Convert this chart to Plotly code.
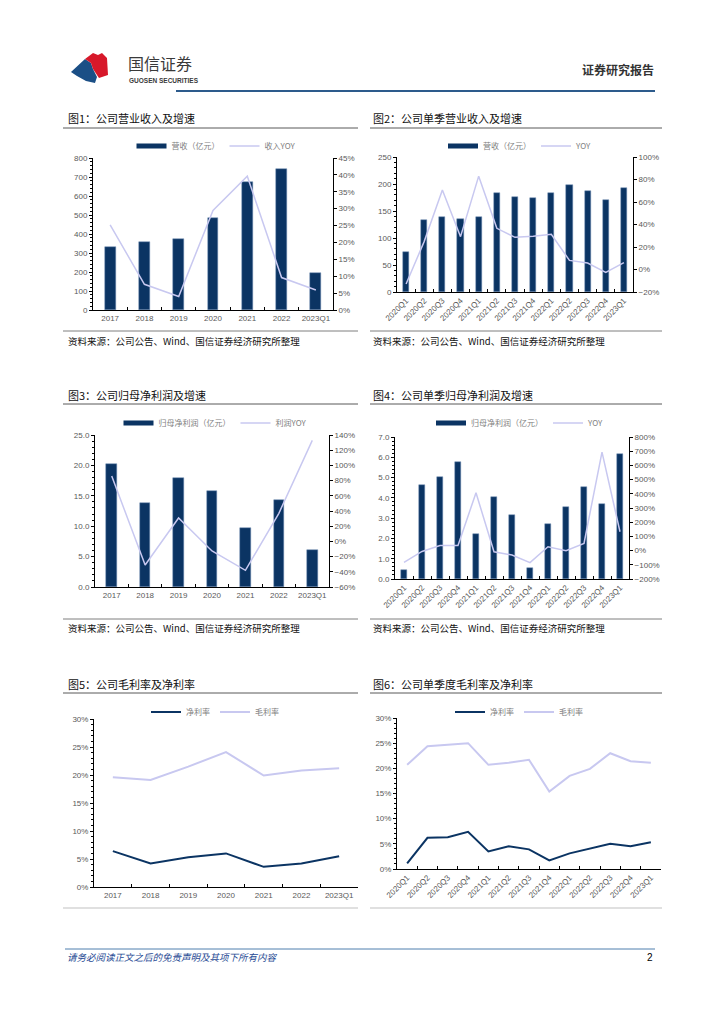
import plotly.graph_objects as go

# page is 724x1024; the browser body keeps its default 8px margin, so the figure is 708x1008
PAGE_W, PAGE_H = 724, 1024
OFF = 8
W, H = PAGE_W - 2 * OFF, PAGE_H - 2 * OFF
def X(px): return (px - OFF) / W
def Y(py): return 1 - (py - OFF) / H

# ---------------- data ----------------
years = ["2017", "2018", "2019", "2020", "2021", "2022", "2023Q1"]
quarters = ["2020Q1", "2020Q2", "2020Q3", "2020Q4", "2021Q1", "2021Q2", "2021Q3",
            "2021Q4", "2022Q1", "2022Q2", "2022Q3", "2022Q4", "2023Q1"]

rev_annual = [334, 359, 374, 485, 675, 742, 193]                 # 营收（亿元）
rev_annual_yoy = [0.252, 0.076, 0.040, 0.295, 0.396, 0.096, 0.059]

rev_q = [75, 134, 138, 136, 139, 184, 176, 175, 183, 199, 187, 171, 193]
rev_q_yoy = [-0.129, 0.25, 0.707, 0.292, 0.83, 0.366, 0.286, 0.295, 0.313, 0.081, 0.058, -0.025, 0.061]

np_annual = [20.2, 13.8, 17.9, 15.8, 9.7, 14.3, 6.1]             # 归母净利润（亿元）
np_annual_yoy = [0.86, -0.31, 0.308, -0.126, -0.38, 0.37, 1.33]

np_q = [0.44, 4.64, 5.02, 5.79, 2.21, 4.02, 3.15, 0.52, 2.70, 3.57, 4.56, 3.69, 6.16]
np_q_yoy = [-0.83, -0.06, 0.36, 0.36, 4.07, -0.08, -0.31, -0.85, 0.27, -0.01, 0.51, 6.94, 1.33]

net_margin_annual = [0.064, 0.042, 0.053, 0.060, 0.036, 0.042, 0.055]
gross_margin_annual = [0.196, 0.191, 0.215, 0.241, 0.199, 0.208, 0.212]

net_margin_q = [0.011, 0.062, 0.063, 0.074, 0.035, 0.045, 0.039, 0.017, 0.031, 0.040, 0.050, 0.045, 0.053]
gross_margin_q = [0.207, 0.244, 0.247, 0.250, 0.207, 0.211, 0.217, 0.154, 0.185, 0.199, 0.230, 0.214, 0.211]

# ---------------- styles ----------------
NAVY = "#0B3463"
LAV = "#C8C8F0"
TICKC = "#595959"
CJK = "Noto Sans CJK SC"
TF = dict(family="Liberation Sans", size=8, color=TICKC)

fig = go.Figure()

def add_bar(x, y, xa, ya, name, lg, width):
    fig.add_trace(go.Bar(x=x, y=y, xaxis=xa, yaxis=ya, name=name, legend=lg, width=width,
                         showlegend=False,
                         marker=dict(color=NAVY, line=dict(color="#6F8DB5", width=0.5))))
    # legend key drawn as a wide bar-coloured block (Excel style)
    fig.add_trace(go.Scatter(x=[None], y=[None], xaxis=xa, yaxis=ya, name=name, legend=lg,
                             mode="lines", line=dict(color=NAVY, width=5), hoverinfo="skip"))

def add_line(x, y, xa, ya, name, lg, color, width=1.5):
    fig.add_trace(go.Scatter(x=x, y=y, xaxis=xa, yaxis=ya, name=name, legend=lg, mode="lines",
                             line=dict(color=color, width=width)))

# chart 1
add_bar(years, rev_annual, "x", "y", "营收（亿元）", "legend", 0.32)
add_line(years, rev_annual_yoy, "x", "y2", "收入YOY", "legend", LAV)
# chart 2
add_bar(quarters, rev_q, "x2", "y3", "营收（亿元）", "legend2", 0.34)
add_line(quarters, rev_q_yoy, "x2", "y4", "YOY", "legend2", LAV)
# chart 3
add_bar(years, np_annual, "x3", "y5", "归母净利润（亿元）", "legend3", 0.32)
add_line(years, np_annual_yoy, "x3", "y6", "利润YOY", "legend3", LAV)
# chart 4
add_bar(quarters, np_q, "x4", "y7", "归母净利润（亿元）", "legend4", 0.34)
add_line(quarters, np_q_yoy, "x4", "y8", "YOY", "legend4", LAV)
# chart 5
add_line(years, net_margin_annual, "x5", "y9", "净利率", "legend5", NAVY, 2)
add_line(years, gross_margin_annual, "x5", "y9", "毛利率", "legend5", LAV, 2)
# chart 6
add_line(quarters, net_margin_q, "x6", "y10", "净利率", "legend6", NAVY, 2)
add_line(quarters, gross_margin_q, "x6", "y10", "毛利率", "legend6", LAV, 2)

def xax(x0, x1, n, anchor, angle=0):
    return dict(domain=[X(x0), X(x1)], anchor=anchor, type="category", range=[-0.5, n - 0.5],
                showline=True, linecolor="#000", linewidth=1, ticks="inside", ticklen=3,
                tickson="boundaries", tickcolor="#000", tickfont=TF, tickangle=angle,
                showgrid=False, zeroline=False, fixedrange=True, automargin=False)

def yax(top, bot, rng, dtick, fmt, anchor, minor_dt):
    return dict(domain=[Y(bot), Y(top)], anchor=anchor, range=rng, dtick=dtick, tick0=rng[0],
                tickformat=fmt, showline=True, linecolor="#000", linewidth=1,
                ticks="outside", ticklen=3, tickcolor="#000", tickfont=TF,
                minor=dict(dtick=minor_dt, ticks="outside", ticklen=2, tickcolor="#000"),
                showgrid=False, zeroline=False, automargin=False)

def yax_r(overlay, rng, dtick, fmt, anchor):
    return dict(overlaying=overlay, side="right", anchor=anchor, range=rng, dtick=dtick, tick0=rng[0],
                tickformat=fmt, showline=True, linecolor="#000", linewidth=1,
                ticks="outside", ticklen=3, tickcolor="#000", tickfont=TF,
                showgrid=False, zeroline=False, automargin=False)

layout = dict(
    width=W, height=H, margin=dict(l=0, r=0, t=0, b=0, autoexpand=False),
    paper_bgcolor="white", plot_bgcolor="rgba(0,0,0,0)",
    showlegend=True, bargap=0,
    xaxis=xax(93, 333, 7, "y"),
    yaxis=yax(158, 310, [0, 800], 100, "d", "x", 20),
    yaxis2=yax_r("y", [0, 0.45], 0.05, ".0%", "x"),
    xaxis2=xax(397, 633, 13, "y3", -45),
    yaxis3=yax(157, 292, [0, 250], 50, "d", "x2", 10),
    yaxis4=yax_r("y3", [-0.2, 1.0], 0.2, ".0%", "x2"),
    xaxis3=xax(95, 329, 7, "y5"),
    yaxis5=yax(435, 587, [0, 25], 5, ".1f", "x3", 1),
    yaxis6=yax_r("y5", [-0.6, 1.4], 0.2, ".0%", "x3"),
    xaxis4=xax(395, 629, 13, "y7", -45),
    yaxis7=yax(437, 579, [0, 7], 1, ".1f", "x4", 0.2),
    yaxis8=yax_r("y7", [-2, 8], 1, ".0%", "x4"),
    xaxis5=xax(94, 358, 7, "y9"),
    yaxis9=yax(719, 887, [0, 0.30], 0.05, ".0%", "x5", 0.01),
    xaxis6=xax(397, 661, 13, "y10", -45),
    yaxis10=yax(718, 869, [0, 0.30], 0.05, ".0%", "x6", 0.01),
)

def leg(cx, cy):
    return dict(x=X(cx), y=Y(cy), xanchor="center", yanchor="middle", orientation="h",
                font=dict(family=CJK, size=8, color="#808080"), bgcolor="rgba(0,0,0,0)",
                itemwidth=30, tracegroupgap=0, itemclick=False)

layout.update(legend=leg(216, 146), legend2=leg(520, 146), legend3=leg(215, 423),
              legend4=leg(520, 423), legend5=leg(215, 712), legend6=leg(519, 712))
fig.update_layout(**layout)

# ---------------- page decoration ----------------
shapes = []
def hline(x0, x1, y, color, width):
    shapes.append(dict(type="line", xref="paper", yref="paper", x0=X(x0), x1=X(x1), y0=Y(y), y1=Y(y),
                       line=dict(color=color, width=width)))

def poly(pts, color):
    d = "M " + " L ".join(f"{X(a):.5f},{Y(b):.5f}" for a, b in pts) + " Z"
    shapes.append(dict(type="path", xref="paper", yref="paper", path=d, fillcolor=color,
                       line=dict(width=0)))

# logo
poly([(71, 72), (85, 59), (91, 63), (93, 69), (97, 77), (95, 83), (86, 81), (77, 76)], "#1B4F86")
poly([(85, 59), (93, 53), (98, 55), (102, 53), (107, 58), (108, 75), (99, 78), (93, 69), (91, 63)], "#D7182A")

hline(176, 655, 91, "#2D5B8C", 2.2)
hline(65, 655, 949, "#4F7FAE", 1)

# titles underlines / source lines
for (x0, x1) in [(63, 358), (370, 662)]:
    hline(x0, x1, 128, "#595959", 1)
    hline(x0, x1, 331, "#7F7F7F", 1)
    hline(x0, x1, 404, "#595959", 1)
    hline(x0, x1, 619, "#7F7F7F", 1)
    hline(x0, x1, 693, "#595959", 1)
    hline(x0, x1, 908, "#E0E0E0", 2)

annots = []
def txt(x, y, s, size, color="#000", family=CJK, xanchor="left"):
    annots.append(dict(x=X(x), y=Y(y), xref="paper", yref="paper", text=s, showarrow=False,
                       xanchor=xanchor, yanchor="middle", font=dict(family=family, size=size, color=color)))

txt(126, 63, "国信证券", 16, "#3A3A3A")
txt(127, 81, "<b>GUOSEN SECURITIES</b>", 6.5, "#3A3A3A", "Liberation Sans")
txt(656, 69, "<b>证券研究报告</b>", 12, "#333333", CJK, "right")

titles = [(66, 118, "图1：公司营业收入及增速"), (371, 118, "图2：公司单季营业收入及增速"),
          (66, 395, "图3：公司归母净利润及增速"), (371, 395, "图4：公司单季归母净利润及增速"),
          (66, 684, "图5：公司毛利率及净利率"), (371, 684, "图6：公司单季度毛利率及净利率")]
for x, y, s in titles:
    txt(x, y, s, 11, "#111111")

src = "资料来源：公司公告、Wind、国信证券经济研究所整理"
for x, y in [(66, 341), (371, 341), (66, 628), (371, 628)]:
    txt(x, y, src, 9.5, "#111111")

txt(65, 957, "<i>请务必阅读正文之后的免责声明及其项下所有内容</i>", 9.5, "#1F4A94")
txt(655, 957, "2", 10, "#000", "Liberation Sans", "right")

fig.update_layout(shapes=shapes, annotations=annots)

fig.write_html("out.html", config={"displayModeBar": False})
